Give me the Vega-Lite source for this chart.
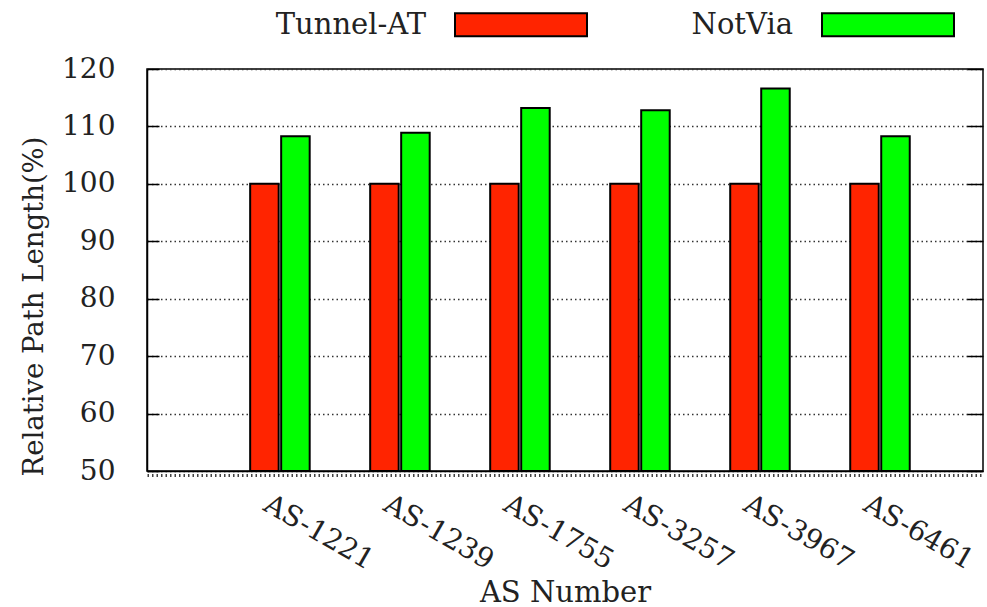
{
  "$schema": "https://vega.github.io/schema/vega-lite/v6.json",
  "width": 836,
  "height": 402,
  "autosize": {"type": "none"},
  "padding": {"left": 147, "top": 69, "right": 4, "bottom": 136},
  "background": "white",
  "config": {
    "view": {"stroke": "black", "strokeWidth": 1.5},
    "font": "DejaVu Serif",
    "axis": {"labelFont": "DejaVu Serif", "titleFont": "DejaVu Serif", "labelColor": "#222", "titleColor": "#222", "titleFontWeight": "normal"}
  },
  "data": {
    "values": [
      {"as": "AS-1221", "series": "Tunnel-AT", "value": 100},
      {"as": "AS-1221", "series": "NotVia", "value": 108.3},
      {"as": "AS-1239", "series": "Tunnel-AT", "value": 100},
      {"as": "AS-1239", "series": "NotVia", "value": 108.9},
      {"as": "AS-1755", "series": "Tunnel-AT", "value": 100},
      {"as": "AS-1755", "series": "NotVia", "value": 113.2},
      {"as": "AS-3257", "series": "Tunnel-AT", "value": 100},
      {"as": "AS-3257", "series": "NotVia", "value": 112.8},
      {"as": "AS-3967", "series": "Tunnel-AT", "value": 100},
      {"as": "AS-3967", "series": "NotVia", "value": 116.6},
      {"as": "AS-6461", "series": "Tunnel-AT", "value": 100},
      {"as": "AS-6461", "series": "NotVia", "value": 108.3}
    ]
  },
  "resolve": {"axis": {"x": "independent", "y": "independent"}},
  "layer": [
    {
      "mark": {"type": "bar", "stroke": "black", "strokeWidth": 2, "opacity": 1},
      "encoding": {
        "x": {
          "field": "as", "type": "nominal", "sort": null,
          "scale": {"paddingInner": 0, "paddingOuter": 0.483, "align": 0.629},
          "axis": {
            "orient": "bottom", "ticks": false, "domainColor": "black", "domainWidth": 1.5,
            "labelAngle": 30, "labelAlign": "left", "labelBaseline": "alphabetic",
            "labelPadding": 38, "labelOffset": -18, "labelFontSize": 28,
            "title": "AS Number", "titleFontSize": 29, "titleX": 418, "titleY": 130,
            "titleBaseline": "alphabetic", "titleAlign": "center"
          }
        },
        "xOffset": {
          "field": "series", "type": "nominal", "sort": ["Tunnel-AT", "NotVia"],
          "scale": {"paddingInner": 0.08, "paddingOuter": 0.9755}
        },
        "y": {
          "field": "value", "type": "quantitative",
          "scale": {"domain": [50, 120], "zero": false, "nice": false},
          "axis": {
            "orient": "left", "values": [50, 60, 70, 80, 90, 100, 110, 120],
            "grid": true, "gridColor": "#333", "gridDash": [1.5, 3], "gridWidth": 1.3,
            "tickSize": -12, "tickColor": "black", "tickWidth": 1.5,
            "domainColor": "black", "domainWidth": 1.5,
            "labelFontSize": 28, "labelPadding": 44, "labelDy": -3,
            "title": "Relative Path Length(%)", "titleFontSize": 27.5,
            "titleX": -105, "titleY": 237, "titleBaseline": "alphabetic", "titleAlign": "center", "titleAngle": -90
          }
        },
        "y2": {"datum": 50},
        "color": {
          "field": "series", "type": "nominal",
          "scale": {"domain": ["Tunnel-AT", "NotVia"], "range": ["#ff2400", "#00ff00"]},
          "legend": {
            "orient": "none", "legendX": 307, "legendY": -111.5, "direction": "horizontal",
            "title": null,
            "symbolType": "M-1,-0.174H1V0.174H-1Z", "symbolSize": 17424,
            "symbolStrokeColor": "black", "symbolStrokeWidth": 2, "symbolOpacity": 1,
            "labelFont": "DejaVu Serif", "labelFontSize": 29, "labelColor": "#222",
            "labelAlign": "right", "labelOffset": -162, "columnPadding": 100, "labelLimit": 400
          }
        }
      }
    },
    {
      "mark": {"type": "bar", "opacity": 0},
      "encoding": {
        "x": {
          "field": "as", "type": "nominal", "sort": null,
          "axis": {"orient": "bottom", "offset": 4, "labels": false, "ticks": false, "title": null,
                   "domainColor": "#444", "domainWidth": 3, "domainDash": [1.5, 3]}
        },
        "xOffset": {"field": "series", "type": "nominal", "sort": ["Tunnel-AT", "NotVia"]},
        "y": {
          "field": "value", "type": "quantitative",
          "axis": {"orient": "right", "values": [50, 60, 70, 80, 90, 100, 110, 120], "labels": false, "domain": false,
                   "grid": false, "tickSize": -16, "tickColor": "black", "tickWidth": 1.5, "title": null}
        },
        "y2": {"datum": 50}
      }
    }
  ]
}
